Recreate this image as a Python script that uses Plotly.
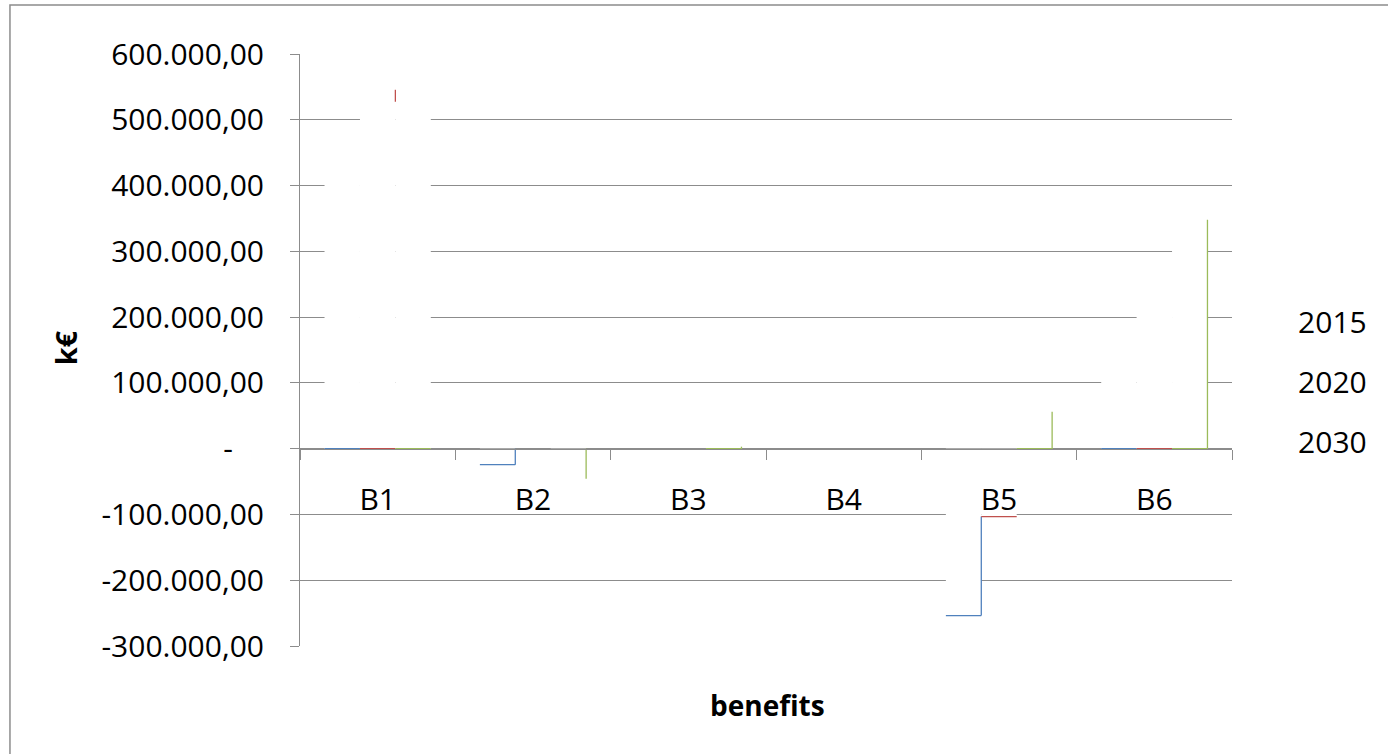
import plotly.graph_objects as go

# ---- data ----
categories = ["B1", "B2", "B3", "B4", "B5", "B6"]
series_names = ["2015", "2020", "2030"]
values_2015 = [450000, -24300, 0, 0, -253800, 150000]
values_2020 = [545600, 0, 0, 0, -103300, 250000]
values_2030 = [527400, -45600, 3000, 0, 56200, 348000]
y_tickvals = [-300000, -200000, -100000, 0, 100000, 200000, 300000, 400000, 500000, 600000]
y_ticktext = ["-300.000,00", "-200.000,00", "-100.000,00", "-\u00a0\u00a0\u00a0\u00a0",
              "100.000,00", "200.000,00", "300.000,00", "400.000,00", "500.000,00", "600.000,00"]

# which outline edges of each bar remain visible in the original rendering
show_bottom = [[1, 1, 0, 0, 1, 1], [1, 0, 0, 0, 1, 1], [1, 0, 1, 0, 1, 1]]
show_right = [[0, 1, 0, 0, 1, 0], [1, 0, 0, 0, 0, 0], [0, 1, 1, 0, 1, 1]]

colors = ["#4F81BD", "#C0504D", "#9BBB59"]
GRID = "#8c8c8c"
FONT = "Open Sans"
BAR_W = 0.228

all_values = [values_2015, values_2020, values_2030]
x_pos = list(range(len(categories)))

fig = go.Figure()

for j, (name, vals) in enumerate(zip(series_names, all_values)):
    off = -1.5 * BAR_W + j * BAR_W
    fig.add_trace(go.Bar(
        x=x_pos, y=vals, width=BAR_W, offset=off, name=name, legendgroup=name,
        marker=dict(color="white", line=dict(width=0)), hoverinfo="y+name",
    ))

for j, vals in enumerate(all_values):
    off = -1.5 * BAR_W + j * BAR_W
    xs, ys = [], []
    for i, v in enumerate(vals):
        left = i + off
        right = i + off + BAR_W
        if show_bottom[j][i]:
            yb = min(0, v)
            xs += [left, right, None]
            ys += [yb, yb, None]
        if show_right[j][i]:
            start = 0
            if j + 1 < len(all_values):
                nv = all_values[j + 1][i]
                if nv * v > 0 and abs(nv) < abs(v):
                    start = nv
            xs += [right, right, None]
            ys += [start, v, None]
    fig.add_trace(go.Scatter(x=xs, y=ys, mode="lines", line=dict(color=colors[j], width=1.3),
                             showlegend=False, hoverinfo="skip", cliponaxis=False))

fig.update_layout(
    width=1388, height=754,
    margin=dict(l=300, r=156, t=54, b=108),
    paper_bgcolor="white", plot_bgcolor="white",
    barmode="overlay",
    font=dict(family=FONT, size=30, color="#000000"),
    showlegend=True,
    legend=dict(x=1.028, xanchor="left", y=0.592, yanchor="top",
                font=dict(family=FONT, size=30), tracegroupgap=18,
                bgcolor="rgba(0,0,0,0)", itemsizing="constant"),
    xaxis=dict(
        range=[-0.5, 5.5], tickmode="array", tickvals=x_pos, ticktext=categories,
        ticks="", showgrid=False, zeroline=False,
        showline=True, linecolor=GRID, linewidth=1,
        anchor="free", position=1/3, layer="above traces",
        ticklabelstandoff=24,
        tickfont=dict(family=FONT, size=30),
        minor=dict(tickmode="array", tickvals=[k - 0.5 for k in range(len(categories) + 1)],
                   ticks="outside", ticklen=10, tickcolor=GRID, tickwidth=1, showgrid=False),
    ),
    yaxis=dict(
        range=[-300000, 600000], tickmode="array", tickvals=y_tickvals, ticktext=y_ticktext,
        showgrid=True, gridcolor=GRID, gridwidth=1, zeroline=False,
        showline=True, linecolor=GRID, linewidth=1,
        ticks="outside", ticklen=9, tickcolor=GRID,
        ticklabelstandoff=20,
        tickfont=dict(family=FONT, size=30),
    ),
    annotations=[
        dict(text="<b>k€</b>", xref="paper", yref="paper", x=-0.252, y=0.503,
             xanchor="center", yanchor="middle", textangle=-90, showarrow=False,
             font=dict(family=FONT, size=29)),
        dict(text="<b>benefits</b>", xref="paper", yref="paper", x=0.502, y=-0.100,
             xanchor="center", yanchor="middle", showarrow=False,
             font=dict(family=FONT, size=28)),
    ],
    shapes=[
        dict(type="rect", xref="paper", yref="paper", x0=-0.3112, x1=2.0, y0=-2.0, y1=1.0828,
             line=dict(color=GRID, width=1.5), fillcolor="rgba(0,0,0,0)", layer="below"),
    ],
)

fig.write_html("out.html", config={"displayModeBar": False},
               post_script="document.body.style.margin='0';document.body.style.overflow='hidden';")
